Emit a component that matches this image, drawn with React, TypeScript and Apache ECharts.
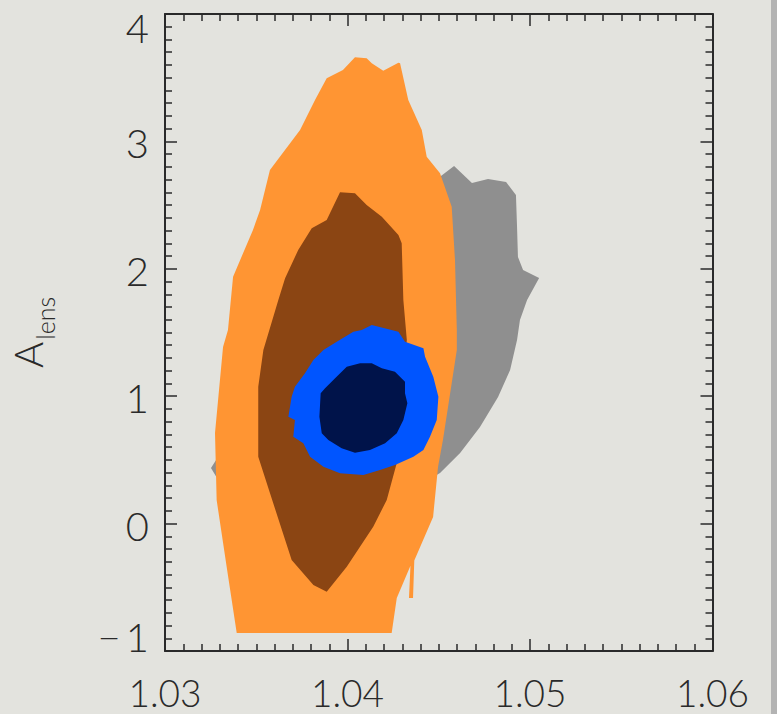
import React, { useEffect, useRef } from "react";
import * as echarts from "echarts";

// axis ranges and tick labels
const xRange = [1.03, 1.06];
const yRange = [-1, 4];
const xTicks = [1.03, 1.04, 1.05, 1.06];
const yTicks = [-1, 0, 1, 2, 3, 4];

// contour outlines, data coordinates [x, y]
const grayOuter: number[][] = [
  [1.04584, 2.807], [1.04682, 2.673], [1.0477, 2.705], [1.04869, 2.681], [1.04923, 2.579],
  [1.04929, 2.328], [1.04934, 2.093], [1.04962, 1.991], [1.0505, 1.928], [1.04984, 1.755],
  [1.04945, 1.598], [1.04929, 1.441], [1.04891, 1.206], [1.04825, 0.994], [1.04726, 0.758],
  [1.04617, 0.554], [1.04507, 0.397], [1.04397, 0.303], [1.03904, 0.185], [1.03466, 0.224],
  [1.0328, 0.37], [1.03252, 0.436], [1.0328, 0.50], [1.03521, 0.97], [1.03904, 1.677],
  [1.04288, 2.305], [1.04512, 2.728],
];

const orangeOuter: number[][] = [
  [1.04041, 3.66], [1.04105, 3.652], [1.04133, 3.613], [1.04196, 3.555], [1.04279, 3.618],
  [1.04288, 3.613], [1.04333, 3.325], [1.04407, 3.089], [1.04434, 2.88], [1.04507, 2.75],
  [1.04571, 2.487], [1.04589, 2.069], [1.04599, 1.52], [1.04599, 1.363], [1.04523, 0.656],
  [1.04496, 0.444], [1.04469, 0.052], [1.04366, -0.29], [1.04359, -0.584], [1.04337, -0.584],
  [1.04345, -0.33], [1.0427, -0.584], [1.04242, -0.859], [1.03393, -0.859], [1.03338, -0.341],
  [1.03283, 0.185], [1.03274, 0.711], [1.03318, 1.386], [1.03345, 1.52], [1.03373, 1.938],
  [1.03482, 2.305], [1.03521, 2.462], [1.03575, 2.776], [1.0374, 3.089], [1.03822, 3.325],
  [1.03886, 3.495], [1.03975, 3.56],
];

const orangeInner: number[][] = [
  [1.03959, 2.6], [1.04041, 2.593], [1.04105, 2.501], [1.04188, 2.409], [1.04279, 2.265],
  [1.04297, 2.2], [1.04306, 1.755], [1.04325, 1.441], [1.04297, 1.025], [1.0427, 0.476],
  [1.04215, 0.185], [1.04141, -0.024], [1.03996, -0.338], [1.03886, -0.535], [1.03813, -0.482],
  [1.03694, -0.286], [1.03575, 0.24], [1.03511, 0.525], [1.03511, 1.075], [1.03539, 1.363],
  [1.03621, 1.755], [1.03658, 1.925], [1.0373, 2.148], [1.03804, 2.318], [1.03886, 2.383],
];

const blueOuter: number[][] = [
  [1.04078, 1.52], [1.04133, 1.559], [1.04279, 1.506], [1.04315, 1.428], [1.04416, 1.376],
  [1.04425, 1.31], [1.0447, 1.153], [1.04498, 0.996], [1.04489, 0.813], [1.04452, 0.682],
  [1.04416, 0.578], [1.04361, 0.525], [1.0426, 0.46], [1.04178, 0.421], [1.04087, 0.381],
  [1.03959, 0.395], [1.03868, 0.447], [1.03795, 0.525], [1.03758, 0.63], [1.03703, 0.682],
  [1.03712, 0.813], [1.03676, 0.839], [1.03694, 0.996], [1.03712, 1.075], [1.03767, 1.18],
  [1.03813, 1.284], [1.03868, 1.363], [1.03941, 1.428], [1.04032, 1.506],
];

const blueInner: number[][] = [
  [1.03996, 1.232], [1.04069, 1.258], [1.04133, 1.258], [1.04188, 1.219], [1.0426, 1.192],
  [1.04315, 1.114], [1.04315, 1.023], [1.04328, 0.944], [1.04306, 0.813], [1.0427, 0.709],
  [1.04206, 0.63], [1.04123, 0.578], [1.04041, 0.557], [1.03968, 0.591], [1.03895, 0.656],
  [1.03859, 0.709], [1.03846, 0.839], [1.03853, 1.023], [1.03877, 1.062], [1.03932, 1.14],
];

const FONT = "Lato";
const INK = "#2a2a2a";

function polySeries(pts: number[][], color: string, z: number) {
  return {
    type: "custom",
    coordinateSystem: "cartesian2d",
    xAxisIndex: 0,
    yAxisIndex: 0,
    z,
    silent: true,
    data: [pts[0]],
    encode: { x: 0, y: 1 },
    renderItem: (_params: any, api: any) => ({
      type: "polygon",
      shape: { points: pts.map((p) => api.coord(p)) },
      style: { fill: color, stroke: null },
    }),
  };
}

const tickCommon = {
  axisLine: { show: true, onZero: false, lineStyle: { color: INK, width: 2 } },
  axisTick: { show: true, inside: true, length: 12, lineStyle: { color: INK, width: 1.5 } },
  minorTick: { show: true, splitNumber: 10, length: 7, lineStyle: { color: INK, width: 1.5 } },
  splitLine: { show: false },
  minorSplitLine: { show: false },
};

export default function App() {
  const ref = useRef<HTMLDivElement>(null);
  useEffect(() => {
    if (!ref.current) return;
    const chart = echarts.init(ref.current, null, { renderer: "svg" });
    const labelStyle = {
      fontFamily: FONT,
      fontWeight: 300,
      fontSize: 40,
      color: INK,
    };
    chart.setOption({
      animation: false,
      backgroundColor: "#e3e3de",
      grid: { left: 165, right: 64.5, top: 14, bottom: 63, containLabel: false },
      graphic: [
        { type: "rect", right: 0, top: 0, shape: { width: 6, height: 714 }, style: { fill: "#b3b3b3" }, z: -1 },
      ],
      xAxis: [
        {
          type: "value",
          min: xRange[0],
          max: xRange[1],
          interval: 0.01,
          position: "bottom",
          ...tickCommon,
          axisLabel: {
            ...labelStyle,
            fontSize: 37,
            lineHeight: 28,
            margin: 27,
            formatter: (v: number) => {
              const t = xTicks.find((k) => Math.abs(k - v) < 1e-6);
              return t !== undefined ? t.toFixed(2) : "";
            },
          },
        },
        {
          type: "value",
          min: xRange[0],
          max: xRange[1],
          interval: 0.01,
          position: "top",
          ...tickCommon,
          axisLabel: { show: false },
        },
      ],
      yAxis: [
        {
          type: "value",
          min: yRange[0],
          max: yRange[1],
          interval: 1,
          position: "left",
          ...tickCommon,
          name: "{a|A}{s|lens}",
          nameLocation: "middle",
          nameRotate: 90,
          nameGap: 117,
          nameTextStyle: {
            rich: {
              a: { fontFamily: FONT, fontWeight: 300, fontSize: 40, lineHeight: 40, color: INK, verticalAlign: "top" },
              s: { fontFamily: FONT, fontWeight: 300, fontSize: 25, lineHeight: 25, color: INK, verticalAlign: "top", padding: [24, 0, 0, 2] },
            },
          },
          axisLabel: {
            margin: 16,
            formatter: (v: number) => {
              const t = yTicks.find((k) => Math.abs(k - v) < 1e-6);
              if (t === undefined) return "";
              const s = t < 0 ? "\u2212\u2009" + Math.abs(t) : String(t);
              if (t === yRange[1]) return "{top|" + s + "}";
              if (t === yRange[0]) return "{bot|" + s + "}";
              return "{n|" + s + "}";
            },
            rich: {
              n: { ...labelStyle, padding: [4, 0, 0, 0] },
              top: { ...labelStyle, padding: [28, 0, 0, 0] },
              bot: { ...labelStyle, padding: [0, 0, 28, 0] },
            },
          },
        },
        {
          type: "value",
          min: yRange[0],
          max: yRange[1],
          interval: 1,
          position: "right",
          ...tickCommon,
          axisLabel: { show: false },
        },
      ],
      series: [
        polySeries(grayOuter, "#8f8f8f", 2),
        polySeries(orangeOuter, "#ff9533", 3),
        polySeries(orangeInner, "#8b4513", 4),
        polySeries(blueOuter, "#0055ff", 5),
        polySeries(blueInner, "#00134a", 6),
      ],
    });
    return () => chart.dispose();
  }, []);
  return (
    <div
      ref={ref}
      style={{ position: "fixed", left: 0, top: 0, width: 777, height: 714 }}
    />
  );
}
